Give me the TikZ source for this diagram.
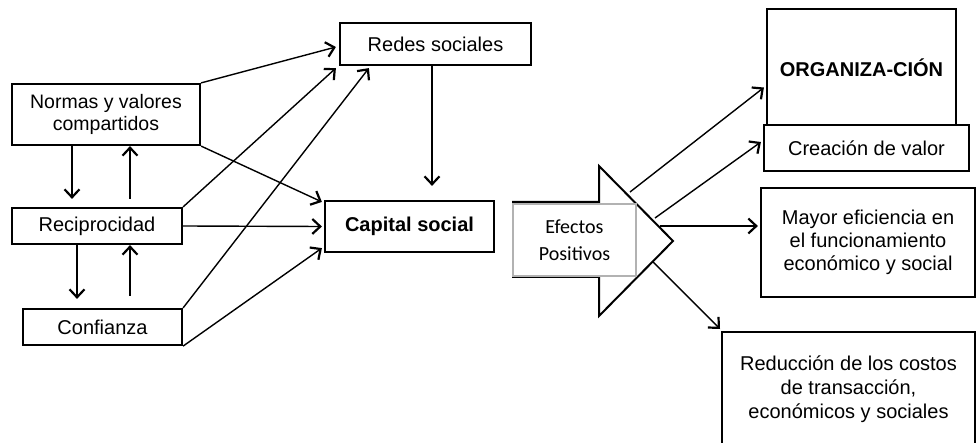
\documentclass[tikz,border=0pt]{standalone}
\usepackage{fontspec}
\setmainfont{Liberation Sans}
\newfontfamily\calib{Carlito}
\usetikzlibrary{arrows.meta,calc}
\begin{document}
\begin{tikzpicture}[x=1pt,y=-1pt,
  box/.style={draw, line width=2.2pt, inner sep=0pt, align=center, font=\fontsize{20}{23}\selectfont},
  arr/.style={line width=1.4pt, -{Straight Barb[length=8pt,width=15pt,line width=2.2pt]}}]
\clip (0,0) rectangle (976,443);
% left part
\node[box, minimum width=188pt, minimum height=61pt, font=\fontsize{19.5}{22}\selectfont] (norm) at (106,114.5) {Normas y valores\\compartidos};
\node[box, minimum width=170pt, minimum height=36pt] (recip) at (97,226) {Reciprocidad};
\node[box, minimum width=159pt, minimum height=36pt] (conf) at (102.5,327) {Confianza};
\node[box, minimum width=191pt, minimum height=42pt] (redes) at (435.5,44) {Redes sociales};
\node[box, minimum width=169pt, minimum height=51pt, font=\fontsize{20}{23}\selectfont\bfseries] (cap) at (409.5,226.5) {Capital social};

\draw[arr] (norm.north east) -- ($(redes.west)+(-3,3)$);
\draw[arr] (norm.south east) -- ($(cap.north west)+(-2,2)$);
\draw[arr, shorten >=8pt] ([xshift=-34pt]norm.south) -- ([xshift=-25pt]recip.north);
\draw[arr, shorten <=8pt] ([xshift=33pt]recip.north) -- ([xshift=24pt]norm.south);
\draw[arr, shorten >=9pt] ([xshift=-20pt]recip.south) -- ([xshift=-25.5pt]conf.north);
\draw[arr, shorten <=12pt] ([xshift=27.5pt]conf.north) -- ([xshift=33pt]recip.south);
\draw[arr] (recip.north east) -- ($(redes.south west)+(-3,2)$);
\draw[arr] (recip.east) -- ($(cap.west)+(-2,0)$);
\draw[arr] (conf.north east) -- ($(redes.south west)+(30,2)$);
\draw[arr] (conf.south east) -- ($(cap.south west)+(-2,-5)$);
\draw[arr, shorten >=14pt] ([xshift=-3.5pt]redes.south) -- ([xshift=-3.5pt]redes.south |- cap.north);

% big arrow
\draw[line width=2pt, line join=miter] (513,202) -- (599,202) -- (599,166) -- (673,241) -- (599,316) -- (599,277) -- (513,277) -- cycle;
\node[draw=black!30, fill=white, line width=1.2pt, inner sep=0pt, minimum width=123pt, minimum height=72pt, align=center, font=\calib\fontsize{20}{27}\selectfont] (eff) at (574.5,240) {Efectos\\Positivos};
\coordinate (s1) at (630,192);
\coordinate (s2) at (655,218);
\coordinate (s3) at (660,226);
\coordinate (s4) at (653,262);

% right part
\node[box, minimum width=189pt, minimum height=117pt, font=\fontsize{20}{23}\selectfont\bfseries] (org) at (861.5,67.5) {ORGANIZA-CIÓN};
\node[box, fill=white, minimum width=205pt, minimum height=46pt] (crea) at (866.5,148) {Creación de valor};
\node[box, minimum width=214pt, minimum height=109pt] (mayor) at (868,242.5) {Mayor eficiencia en\\el funcionamiento\\económico y social};
\node[box, draw=none, font=\fontsize{20}{24}\selectfont] (red) at (848.5,389) {Reducción de los costos\\de transacción,\\económicos y sociales};
\coordinate (redTL) at (722,332);
\draw[line width=2.2pt] (722,460) -- (redTL) -- (975,332) -- (975,460);

\draw[arr] (s1) -- ($(org.west)+(-2,20)$);
\draw[arr] (s2) -- ($(crea.west)+(-2,-6)$);
\draw[arr] (s3) -- ($(mayor.west)+(-2,-16.5)$);
\draw[arr] (s4) -- ($(redTL)+(-2,-3)$);
\end{tikzpicture}
\end{document}
